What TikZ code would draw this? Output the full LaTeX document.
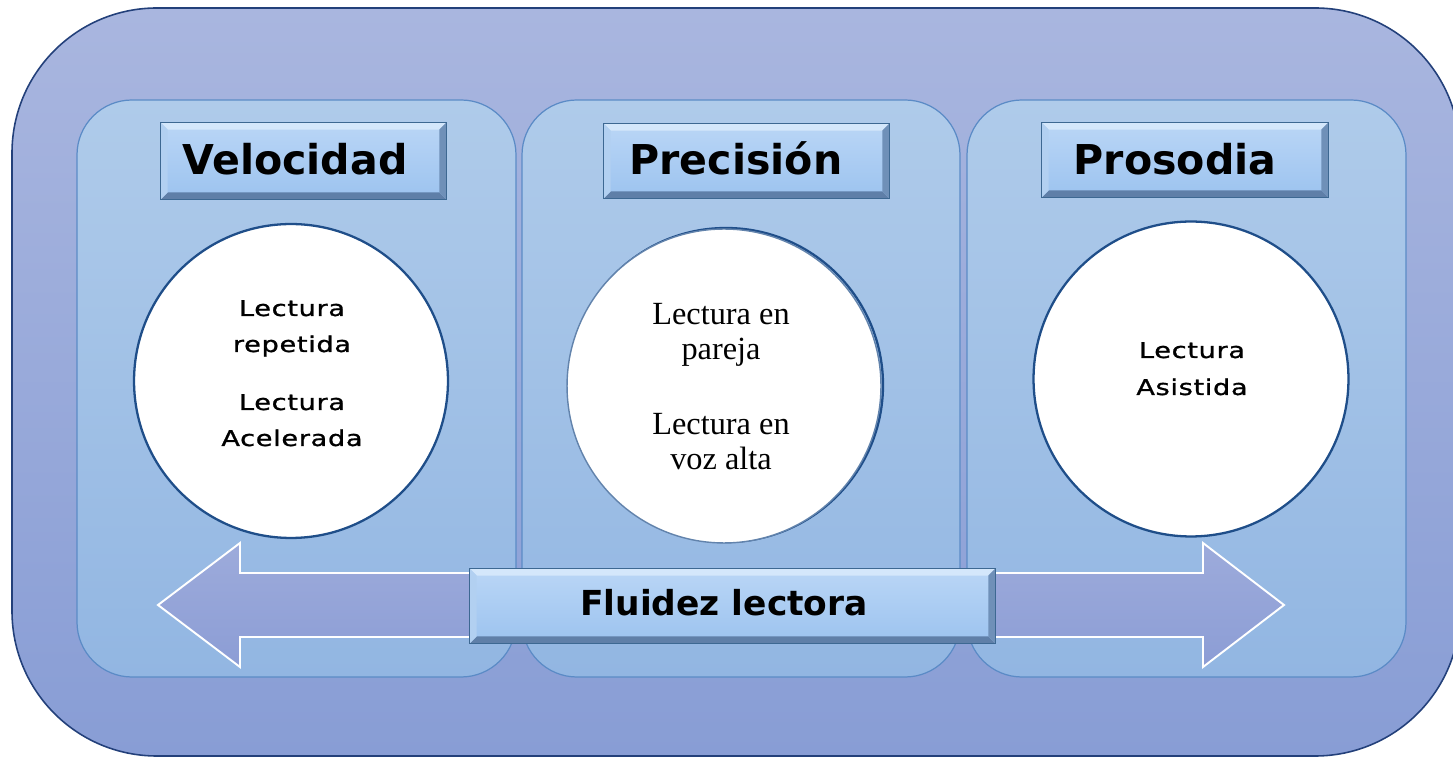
\documentclass[tikz,border=0pt]{standalone}
\usepackage{fontspec}
\setmainfont{Liberation Serif}
\newfontfamily\hdrfont{DejaVu Sans}
\newfontfamily\spacedsans[FakeStretch=1.25, LetterSpace=3, FakeBold=1]{DejaVu Sans}
\usetikzlibrary{calc}
\definecolor{outertop}{HTML}{A9B6DF}
\definecolor{outerbot}{HTML}{889DD5}
\definecolor{outerline}{HTML}{23407A}
\definecolor{paneltop}{HTML}{AFCBEA}
\definecolor{panelbot}{HTML}{92B6E2}
\definecolor{panelline}{HTML}{5B8BC6}
\definecolor{hdrtop}{HTML}{BAD6F6}
\definecolor{hdrbot}{HTML}{9CC3EF}
\definecolor{hdrline}{HTML}{3D6892}
\definecolor{bevT}{HTML}{D4E7FB}
\definecolor{bevL}{HTML}{B2D0F1}
\definecolor{bevR}{HTML}{6F90B8}
\definecolor{bevB}{HTML}{5F7FA8}
\definecolor{arrtop}{HTML}{9DABDB}
\definecolor{arrbot}{HTML}{8C9DD5}
\definecolor{circline}{HTML}{1F4E89}
\tikzset{
  outerbox/.style={draw=outerline, line width=0.9pt, top color=outertop, bottom color=outerbot, rounded corners=2.9cm},
  panelbox/.style={draw=panelline, line width=0.7pt, top color=paneltop, bottom color=panelbot, rounded corners=1.1cm},
  hdrbox/.style={draw=none, top color=hdrtop, bottom color=hdrbot, rectangle, inner sep=0pt},
  hdrtext/.style={font=\hdrfont\bfseries\fontsize{23.4}{26}\selectfont, anchor=base, inner sep=0pt},
  fluidtext/.style={font=\hdrfont\bfseries\fontsize{19.6}{22}\selectfont, anchor=base, inner sep=0pt},
  circ/.style={circle, draw=circline, line width=1.3pt, fill=white, minimum size=6.28cm, inner sep=0pt},
  sanstext/.style={font=\spacedsans\fontsize{12.4}{15}\selectfont, anchor=base, inner sep=0pt},
  seriftext/.style={font=\fontsize{18.4}{21}\selectfont, anchor=base, inner sep=0pt},
  bigarrow/.style={draw=white, line width=1.1pt, top color=arrtop, bottom color=arrbot, line join=miter},
}
\newcommand{\bevelit}[1]{%
  \fill[bevT] (#1.north west) -- (#1.north east) -- ([shift={(-7,7)}]#1.north east) -- ([shift={(7,7)}]#1.north west) -- cycle;
  \fill[bevB] (#1.south west) -- (#1.south east) -- ([shift={(-7,-7)}]#1.south east) -- ([shift={(7,-7)}]#1.south west) -- cycle;
  \fill[bevL] (#1.north west) -- (#1.south west) -- ([shift={(7,-7)}]#1.south west) -- ([shift={(7,7)}]#1.north west) -- cycle;
  \fill[bevR] (#1.north east) -- (#1.south east) -- ([shift={(-7,-7)}]#1.south east) -- ([shift={(-7,7)}]#1.north east) -- cycle;
  \draw[hdrline, line width=0.7pt] (#1.north west) rectangle (#1.south east);
}
\begin{document}
\begin{tikzpicture}[x=0.02cm, y=-0.02cm]
\useasboundingbox (0,0) rectangle (1453,759);
\begin{scope}
\clip (0,0) rectangle (1453,759);
% outer container
\path[outerbox] (12,8) rectangle (1460,756);
\end{scope}
% panels
\path[panelbox] (77,100) rectangle (516,677);
\path[panelbox] (522,100) rectangle (960,677);
\path[panelbox] (967,100) rectangle (1406,677);
% headers
\node[hdrbox, minimum width=5.7cm, minimum height=1.52cm] (h1) at (303.5,161) {};
\bevelit{h1}
\node[hdrtext] (h1t) at (295,175) {Velocidad};
\node[hdrbox, minimum width=5.7cm, minimum height=1.48cm] (h2) at (746.5,161) {};
\bevelit{h2}
\node[hdrtext] (h2t) at (736,175) {Precisión};
\node[hdrbox, minimum width=5.72cm, minimum height=1.48cm] (h3) at (1185,160) {};
\bevelit{h3}
\node[hdrtext] (h3t) at (1175,175) {Prosodia};
% circles
\node[circ] (c1) at (291,381) {};
\draw[circline, line width=1.3pt] (726,385) circle[radius=157];
\node[circ, draw=circline!70!white, line width=0.8pt] (c2) at (724,386) {};
\node[circ, minimum size=6.3cm] (c3) at (1191,379) {};
% circle texts
\node[sanstext] (t11) at (292,316) {Lectura};
\node[sanstext] (t12) at (292,352) {repetida};
\node[sanstext] (t13) at (292,410) {Lectura};
\node[sanstext] (t14) at (292,446) {Acelerada};
\node[seriftext] (t21) at (721,325) {Lectura en};
\node[seriftext] (t22) at (721,360) {pareja};
\node[seriftext] (t23) at (721,435) {Lectura en};
\node[seriftext] (t24) at (721,470) {voz alta};
\node[sanstext] (t31) at (1192,358) {Lectura};
\node[sanstext] (t32) at (1192,395) {Asistida};
% double arrow
\path[bigarrow] (158,605) -- (240,543) -- (240,573) -- (1203,573) -- (1203,543) -- (1284,605) -- (1203,667) -- (1203,637) -- (240,637) -- (240,667) -- cycle;
% fluidez box
\node[hdrbox, minimum width=10.5cm, minimum height=1.48cm] (fl) at (732.5,606) {};
\bevelit{fl}
\node[fluidtext] (flt) at (724,616) {Fluidez lectora};
\end{tikzpicture}
\end{document}
